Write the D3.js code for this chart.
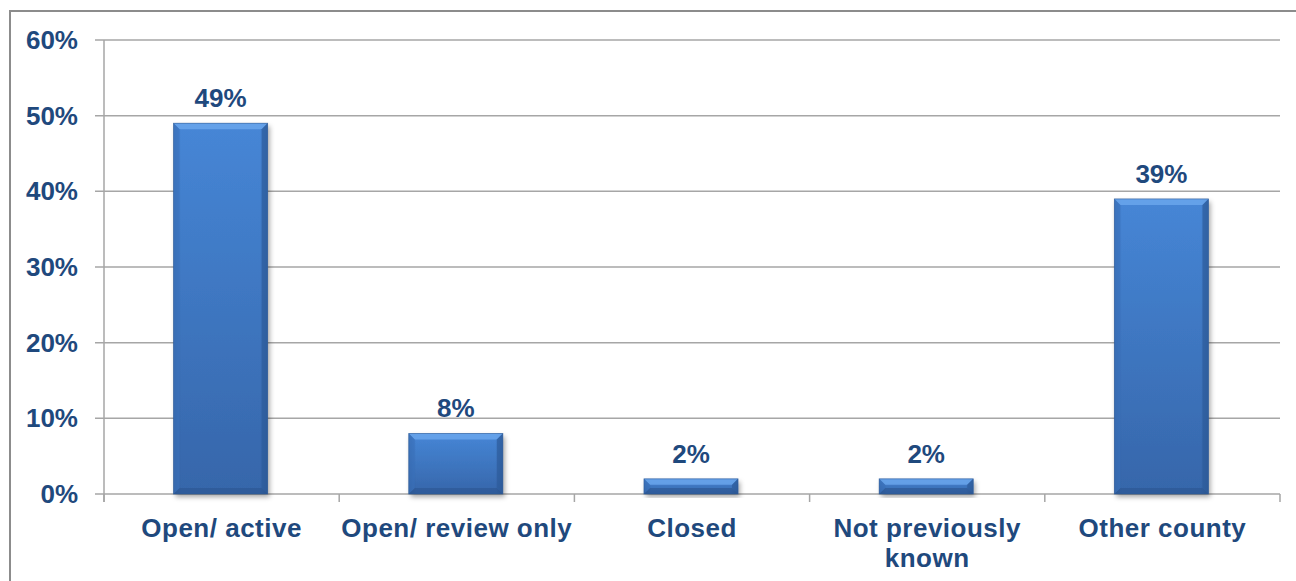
<!DOCTYPE html>
<html><head><meta charset="utf-8">
<script src="https://cdn.jsdelivr.net/npm/d3@7"></script>
<style>
html,body{margin:0;padding:0;background:#fff;}
svg{display:block;}
text{font-family:"Liberation Sans",Arial,sans-serif;font-weight:bold;fill:#1F497D;}
</style></head>
<body>
<svg id="chart" width="1296" height="581"></svg>
<script>
const categories = [["Open/ active"], ["Open/ review only"], ["Closed"], ["Not previously", "known"], ["Other county"]];
const values = [49, 8, 2, 2, 39];
const valueLabels = ["49%", "8%", "2%", "2%", "39%"];
const yTicks = [0, 10, 20, 30, 40, 50, 60];
const yTickLabels = ["0%", "10%", "20%", "30%", "40%", "50%", "60%"];

(function(){
const svg = d3.select("#chart");
const W = 1296, H = 581;
const mLeft = 104, mRight = 1280, mTop = 40, mBottom = 494;

const defs = svg.append("defs");
const g1 = defs.append("linearGradient").attr("id","barGrad").attr("x1",0).attr("y1",0).attr("x2",0).attr("y2",1);
g1.append("stop").attr("offset","0%").attr("stop-color","#4686d6");
g1.append("stop").attr("offset","100%").attr("stop-color","#3666aa");
const g2 = defs.append("linearGradient").attr("id","sideGrad").attr("x1",0).attr("y1",0).attr("x2",1).attr("y2",0);
g2.append("stop").attr("offset","0%").attr("stop-color","#000").attr("stop-opacity",0.12);
g2.append("stop").attr("offset","8%").attr("stop-color","#000").attr("stop-opacity",0);
g2.append("stop").attr("offset","92%").attr("stop-color","#000").attr("stop-opacity",0);
g2.append("stop").attr("offset","100%").attr("stop-color","#000").attr("stop-opacity",0.15);
const f = defs.append("filter").attr("id","shadow").attr("x","-20%").attr("y","-20%").attr("width","140%").attr("height","140%");
f.append("feDropShadow").attr("dx",2).attr("dy",3).attr("stdDeviation",2.5).attr("flood-color","#000").attr("flood-opacity",0.35);

// outer border
svg.append("rect").attr("x",10).attr("y",11).attr("width",W+20).attr("height",H+20)
  .attr("fill","none").attr("stroke","#8c8c8c").attr("stroke-width",2);

const y = d3.scaleLinear().domain([0,60]).range([mBottom, mTop]);
const x = d3.scaleBand().domain(d3.range(categories.length)).range([mLeft, mRight]).paddingInner(0).paddingOuter(0);
const bw = x.bandwidth()*0.4;

// gridlines
svg.append("g").selectAll("line").data(yTicks).join("line")
  .attr("x1", mLeft-9).attr("x2", mRight)
  .attr("y1", d=>y(d)).attr("y2", d=>y(d))
  .attr("stroke","#a6a6a6").attr("stroke-width",1.5);

// y axis line
svg.append("line").attr("x1",mLeft).attr("x2",mLeft).attr("y1",mTop).attr("y2",mBottom+8)
  .attr("stroke","#a6a6a6").attr("stroke-width",1.5);
// x ticks
svg.append("g").selectAll("line").data(d3.range(categories.length+1)).join("line")
  .attr("x1", i=> i<categories.length ? x(i) : mRight).attr("x2", i=> i<categories.length ? x(i) : mRight)
  .attr("y1", mBottom).attr("y2", mBottom+8)
  .attr("stroke","#a6a6a6").attr("stroke-width",1.5);

// y labels
svg.append("g").selectAll("text").data(yTicks).join("text")
  .attr("x", 78).attr("y", d=>y(d)+9)
  .attr("text-anchor","end").attr("font-size",26)
  .text((d,i)=>yTickLabels[i]);

// bars
const bars = svg.append("g").selectAll("g").data(values).join("g");
bars.each(function(v,i){
  const gx = d3.select(this);
  const x0 = x(i) + (x.bandwidth()-bw)/2 - 1, x1 = x0 + bw;
  const y0 = y(v), y1 = y(0);
  const b = Math.min(6, (y1-y0)/2.5);
  gx.append("rect").attr("x",x0).attr("y",y0).attr("width",bw).attr("height",y1-y0)
    .attr("fill","url(#barGrad)").attr("filter","url(#shadow)");
  gx.append("rect").attr("x",x0).attr("y",y0).attr("width",bw).attr("height",y1-y0)
    .attr("fill","url(#sideGrad)");
  gx.append("polygon").attr("points",[[x0,y0],[x1,y0],[x1-b,y0+b],[x0+b,y0+b]].join(" "))
    .attr("fill","#6aa6ec").attr("opacity",0.85);
  gx.append("polygon").attr("points",[[x0,y1],[x1,y1],[x1-b,y1-b],[x0+b,y1-b]].join(" "))
    .attr("fill","#2c5591").attr("opacity",0.6);
  gx.append("polygon").attr("points",[[x0,y0],[x0+b,y0+b],[x0+b,y1-b],[x0,y1]].join(" "))
    .attr("fill","#3a72bd").attr("opacity",0.6);
  gx.append("polygon").attr("points",[[x1,y0],[x1-b,y0+b],[x1-b,y1-b],[x1,y1]].join(" "))
    .attr("fill","#2d5c9c").attr("opacity",0.7);
  gx.append("rect").attr("x",x0).attr("y",y0).attr("width",bw).attr("height",y1-y0)
    .attr("fill","none").attr("stroke","#2e5a96").attr("stroke-width",0.8).attr("stroke-opacity",0.7);
});

// value labels
svg.append("g").selectAll("text").data(values).join("text")
  .attr("x",(d,i)=>x(i)+x.bandwidth()/2 - 1).attr("y",d=>y(d)-16)
  .attr("text-anchor","middle").attr("font-size",26)
  .text((d,i)=>valueLabels[i]);

// category labels
const cl = svg.append("g").selectAll("text").data(categories).join("text")
  .attr("x",(d,i)=>x(i)+x.bandwidth()/2).attr("y",537)
  .attr("text-anchor","middle").attr("font-size",26).attr("letter-spacing",0.5);
cl.each(function(lines,i){
  d3.select(this).selectAll("tspan").data(lines).join("tspan")
    .attr("x", x(i)+x.bandwidth()/2).attr("dy",(d,j)=>j===0?0:30).text(d=>d);
});
})();
</script>
</body></html>
